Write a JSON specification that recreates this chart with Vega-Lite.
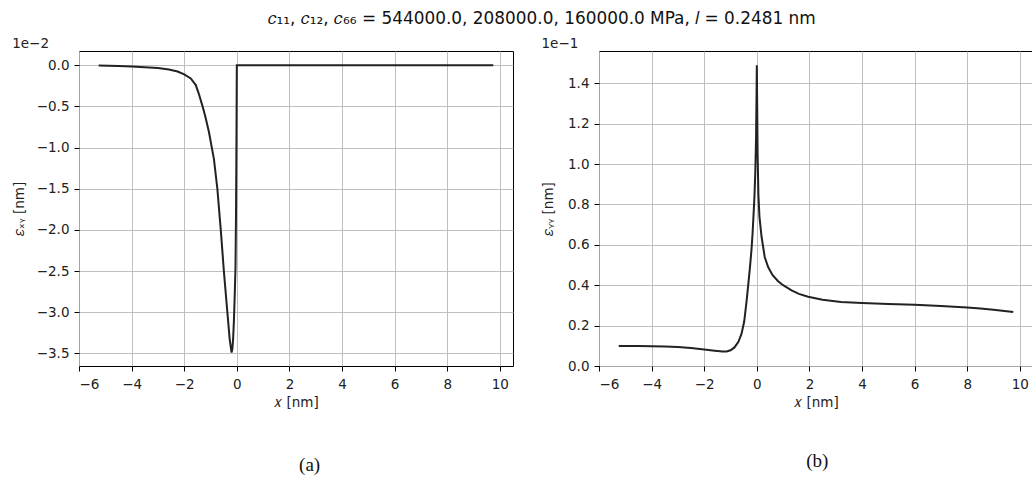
{
  "$schema": "https://vega.github.io/schema/vega-lite/v6.json",
  "background": "white",
  "padding": {"left": 11, "top": 9, "right": 0, "bottom": 0},
  "datasets": {
    "exy": [
      {"x": -5.25, "exy": -0.00003},
      {"x": -4.5, "exy": -0.00008},
      {"x": -4.0, "exy": -0.00014},
      {"x": -3.5, "exy": -0.00022},
      {"x": -3.0, "exy": -0.00033},
      {"x": -2.58, "exy": -0.0005},
      {"x": -2.25, "exy": -0.00075},
      {"x": -2.0, "exy": -0.0011},
      {"x": -1.75, "exy": -0.0016},
      {"x": -1.56, "exy": -0.0024},
      {"x": -1.45, "exy": -0.0034},
      {"x": -1.31, "exy": -0.0049},
      {"x": -1.2, "exy": -0.0062},
      {"x": -1.06, "exy": -0.0081},
      {"x": -0.87, "exy": -0.0114},
      {"x": -0.74, "exy": -0.015},
      {"x": -0.61, "exy": -0.02},
      {"x": -0.49, "exy": -0.0251},
      {"x": -0.36, "exy": -0.03},
      {"x": -0.27, "exy": -0.0333},
      {"x": -0.2, "exy": -0.0349},
      {"x": -0.17, "exy": -0.0345},
      {"x": -0.14, "exy": -0.0332},
      {"x": -0.11, "exy": -0.031},
      {"x": -0.08, "exy": -0.028},
      {"x": -0.05, "exy": -0.0245},
      {"x": -0.03, "exy": -0.018},
      {"x": -0.015, "exy": -0.01},
      {"x": 0.0, "exy": 0.0},
      {"x": 1.0, "exy": 0.0},
      {"x": 3.0, "exy": 0.0},
      {"x": 5.0, "exy": 0.0},
      {"x": 7.0, "exy": 0.0},
      {"x": 9.75, "exy": 0.0}
    ],
    "eyy": [
      {"x": -5.25, "eyy": 0.0099},
      {"x": -4.5, "eyy": 0.0099},
      {"x": -4.0, "eyy": 0.0098},
      {"x": -3.5, "eyy": 0.0097},
      {"x": -3.0, "eyy": 0.0094},
      {"x": -2.5, "eyy": 0.0089},
      {"x": -2.0, "eyy": 0.0082},
      {"x": -1.6, "eyy": 0.0076},
      {"x": -1.3, "eyy": 0.0072},
      {"x": -1.15, "eyy": 0.0072},
      {"x": -1.0, "eyy": 0.0078},
      {"x": -0.85, "eyy": 0.0092},
      {"x": -0.7, "eyy": 0.012},
      {"x": -0.58, "eyy": 0.016},
      {"x": -0.48, "eyy": 0.022},
      {"x": -0.39, "eyy": 0.032},
      {"x": -0.32, "eyy": 0.041},
      {"x": -0.26, "eyy": 0.049},
      {"x": -0.2, "eyy": 0.058},
      {"x": -0.16, "eyy": 0.066},
      {"x": -0.12, "eyy": 0.076},
      {"x": -0.09, "eyy": 0.084},
      {"x": -0.06, "eyy": 0.095},
      {"x": -0.03, "eyy": 0.112},
      {"x": -0.01, "eyy": 0.135},
      {"x": 0.0, "eyy": 0.149},
      {"x": 0.01, "eyy": 0.135},
      {"x": 0.03, "eyy": 0.105},
      {"x": 0.06, "eyy": 0.085},
      {"x": 0.1, "eyy": 0.074},
      {"x": 0.18, "eyy": 0.064},
      {"x": 0.3, "eyy": 0.054},
      {"x": 0.43, "eyy": 0.049},
      {"x": 0.6, "eyy": 0.045},
      {"x": 0.81, "eyy": 0.042},
      {"x": 1.0, "eyy": 0.04},
      {"x": 1.32, "eyy": 0.0375},
      {"x": 1.6, "eyy": 0.0357},
      {"x": 1.95, "eyy": 0.0343},
      {"x": 2.5, "eyy": 0.0328},
      {"x": 3.2, "eyy": 0.0317},
      {"x": 4.0, "eyy": 0.0312},
      {"x": 5.0, "eyy": 0.0307},
      {"x": 6.0, "eyy": 0.0303},
      {"x": 7.0, "eyy": 0.0297},
      {"x": 8.0, "eyy": 0.029},
      {"x": 8.5, "eyy": 0.0285},
      {"x": 9.0, "eyy": 0.0278},
      {"x": 9.5, "eyy": 0.0271},
      {"x": 9.75, "eyy": 0.0267}
    ]
  },
  "title": {
    "text": "𝑐₁₁, 𝑐₁₂, 𝑐₆₆ = 544000.0, 208000.0, 160000.0 MPa, 𝑙 = 0.2481 nm",
    "font": "DejaVu Sans",
    "fontSize": 16.9,
    "fontWeight": "normal",
    "color": "#111",
    "anchor": "middle",
    "offset": 9,
    "dx": 19
  },
  "spacing": 27,
  "hconcat": [
    {
      "title": {"text": "(a)", "orient": "bottom", "font": "Liberation Serif", "fontSize": 19, "fontWeight": "normal", "color": "#111", "anchor": "middle", "offset": 46, "dx": 47},
      "vconcat": [
        {
          "width": 434,
          "height": 315,
          "title": {"text": "1e−2", "anchor": "start", "font": "DejaVu Sans", "fontSize": 13.5, "fontWeight": "normal", "color": "#222", "offset": 0.3},
          "data": {"name": "exy"},
          "mark": {"type": "line", "color": "#222", "strokeWidth": 2, "clip": true},
          "encoding": {
            "x": {"field": "x", "type": "quantitative", "scale": {"domain": [-6, 10.5], "nice": false, "zero": false},
              "axis": {"values": [-6, -4, -2, 0, 2, 4, 6, 8, 10], "format": "d", "title": "𝑥 [nm]", "labelPadding": 6, "titlePadding": 5}},
            "y": {"field": "exy", "type": "quantitative", "scale": {"domain": [-0.03654, 0.00174], "nice": false, "zero": false},
              "axis": {"values": [0, -0.005, -0.01, -0.015, -0.02, -0.025, -0.03, -0.035], "labelExpr": "format(datum.value*100, '.1f')", "title": "𝜀ₓᵧ [nm]", "labelPadding": 5, "titlePadding": 10}}
          }
        }
      ]
    },
    {
      "title": {"text": "(b)", "orient": "bottom", "font": "Liberation Serif", "fontSize": 19, "fontWeight": "normal", "color": "#111", "anchor": "middle", "offset": 42, "dx": 30},
      "vconcat": [
        {
          "width": 434,
          "height": 315,
          "title": {"text": "1e−1", "anchor": "start", "font": "DejaVu Sans", "fontSize": 13.5, "fontWeight": "normal", "color": "#222", "offset": 0.3},
          "data": {"name": "eyy"},
          "mark": {"type": "line", "color": "#222", "strokeWidth": 2, "clip": true},
          "encoding": {
            "x": {"field": "x", "type": "quantitative", "scale": {"domain": [-6, 10.5], "nice": false, "zero": false},
              "axis": {"values": [-6, -4, -2, 0, 2, 4, 6, 8, 10], "format": "d", "title": "𝑥 [nm]", "labelPadding": 6, "titlePadding": 5}},
            "y": {"field": "eyy", "type": "quantitative", "scale": {"domain": [0, 0.156], "nice": false, "zero": false},
              "axis": {"values": [0, 0.02, 0.04, 0.06, 0.08, 0.1, 0.12, 0.14], "labelExpr": "format(datum.value*10, '.1f')", "title": "𝜀ᵧᵧ [nm]", "labelPadding": 5, "titlePadding": 12}}
          }
        }
      ]
    }
  ],
  "config": {
    "font": "DejaVu Sans",
    "view": {"stroke": "#000", "strokeWidth": 1},
    "axis": {
      "domain": false,
      "grid": true,
      "gridColor": "#b8b8b8",
      "gridWidth": 0.9,
      "tickColor": "#000",
      "tickSize": 5,
      "tickWidth": 1,
      "labelFont": "DejaVu Sans",
      "labelFontSize": 13.5,
      "labelColor": "#222",
      "titleFont": "DejaVu Sans",
      "titleFontSize": 13.5,
      "titleFontWeight": "normal",
      "titleColor": "#222"
    }
  }
}
